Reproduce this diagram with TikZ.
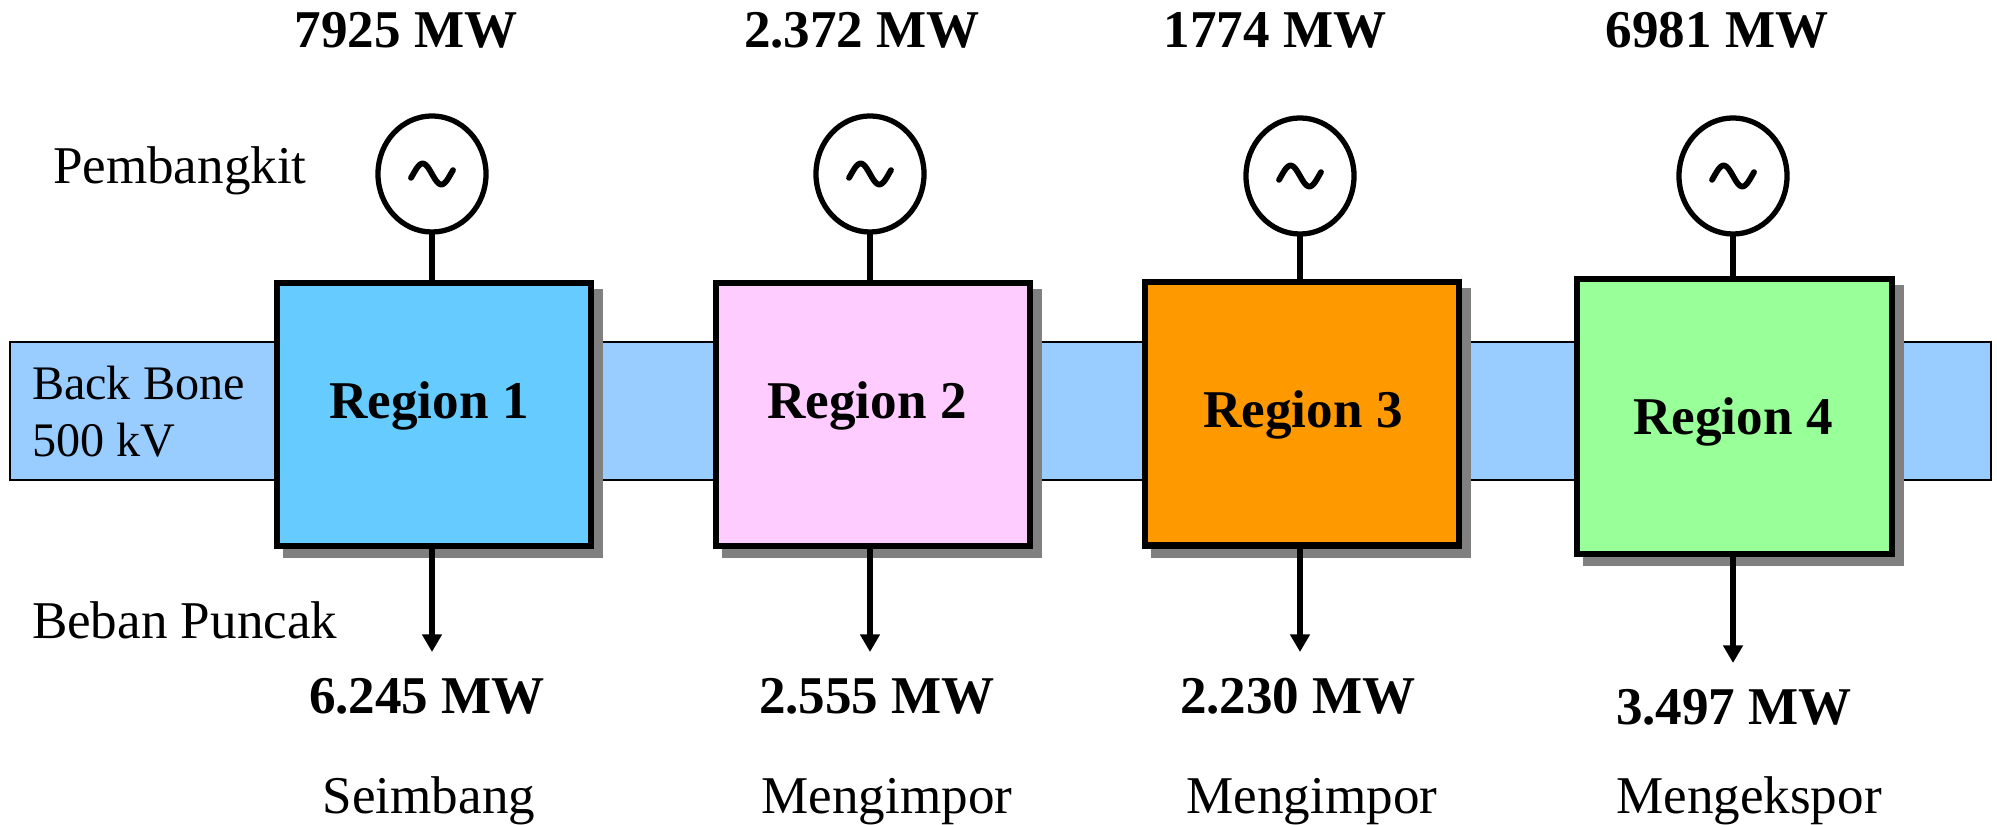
\documentclass[tikz,border=0pt]{standalone}
\usepackage{fontspec}
\setmainfont{Liberation Serif}
\usetikzlibrary{arrows.meta,shapes.geometric}

\definecolor{bandblue}{HTML}{99CCFF}
\definecolor{regA}{HTML}{66CCFF}
\definecolor{regB}{HTML}{FFCCFF}
\definecolor{regC}{HTML}{FF9900}
\definecolor{regD}{HTML}{99FF99}
\definecolor{shade}{HTML}{808080}

\begin{document}
\begin{tikzpicture}[x=0.01cm, y=-0.01cm,
  every node/.style={inner sep=0pt, outer sep=0pt},
  plain/.style={font=\fontsize{15.1}{18}\selectfont, anchor=base},
  small/.style={font=\fontsize{13.7}{16}\selectfont, anchor=base west},
  mw/.style={font=\fontsize{15.1}{18}\selectfont\bfseries, anchor=base},
  band/.style={draw=black, fill=bandblue, line width=0.7pt},
  regbox/.style={rectangle, draw=black, line width=1.75pt,
    minimum width=3.14cm, minimum height=2.63cm,
    preaction={fill=shade, draw=shade,
      transform canvas={shift={(0.09cm,-0.09cm)}}}},
  gen/.style={ellipse, draw=black, fill=white, line width=1.5pt,
    minimum width=1.08cm, minimum height=1.16cm},
  wave/.style={line width=1.65pt, line cap=round},
  wire/.style={line width=1.45pt},
  load/.style={wire, -{Triangle[width=5.4pt,length=5pt]}}
]
\useasboundingbox (0,0) rectangle (1997,825);

% 500 kV backbone
\draw[band] (10,342) rectangle (1991,480);
\node[small] (bb1) at (32,400) {Back Bone};
\node[small] (bb2) at (32,457) {500 kV};

% region blocks
\node[regbox, fill=regA] (r1) at (434,414.5) {};
\node[regbox, fill=regB] (r2) at (873,414.5) {};
\node[regbox, fill=regC] (r3) at (1302,414) {};
\node[regbox, fill=regD, minimum width=3.15cm, minimum height=2.75cm] (r4) at (1734.5,416.5) {};

\node[mw] (t1) at (429,419) {Region 1};
\node[mw] (t2) at (867,419) {Region 2};
\node[mw] (t3) at (1303,428) {Region 3};
\node[mw] (t4) at (1733,435) {Region 4};

% generators
\node[gen] (g1) at (432,174) {};
\node[gen] (g2) at (870,174) {};
\node[gen] (g3) at (1300,176) {};
\node[gen] (g4) at (1733,176) {};
\foreach \i in {1,2,3,4}{
  \draw[wave, shift={(g\i.center)}] plot[domain=-21:21, samples=41, smooth] (\x, {10.5*sin(9.6*\x)});
  \draw[wire] (g\i.south) -- (g\i.south |- r\i.north);
}

% load arrows
\coordinate (l1) at (432,652);
\coordinate (l2) at (870,652);
\coordinate (l3) at (1300,652);
\coordinate (l4) at (1733,663);
\draw[load] (g1.center |- r1.south) -- (l1);
\draw[load] (g2.center |- r2.south) -- (l2);
\draw[load] (g3.center |- r3.south) -- (l3);
\draw[load] (g4.center |- r4.south) -- (l4);

% generation figures
\node[mw] (p1) at (406,48) {7925 MW};
\node[mw] (p2) at (862,48) {2.372 MW};
\node[mw] (p3) at (1275,48) {1774 MW};
\node[mw] (p4) at (1717,48) {6981 MW};
\node[plain, anchor=base west] (pl) at (53,184) {Pembangkit};

% peak loads
\node[plain, anchor=base west] (ll) at (32,639) {Beban Puncak};
\node[mw] (q1) at (427,714) {6.245 MW};
\node[mw] (q2) at (877,714) {2.555 MW};
\node[mw] (q3) at (1298,714) {2.230 MW};
\node[mw] (q4) at (1734,725) {3.497 MW};

% balance status
\node[plain] (s1) at (429,813) {Seimbang};
\node[plain] (s2) at (887,813) {Mengimpor};
\node[plain] (s3) at (1312,813) {Mengimpor};
\node[plain] (s4) at (1749,813) {Mengekspor};
\end{tikzpicture}
\end{document}
